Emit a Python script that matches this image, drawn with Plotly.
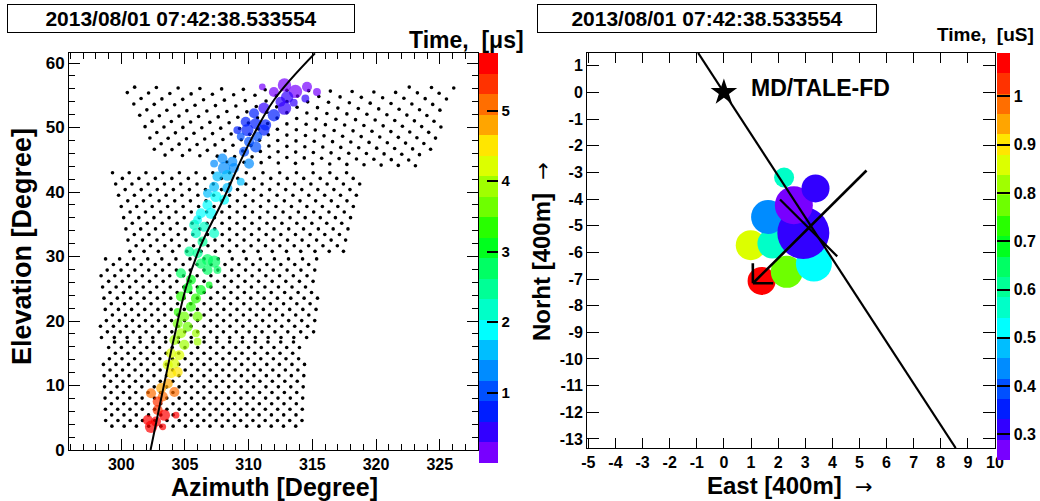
import math
import plotly.graph_objects as go

# ---------------- data ----------------
TITLE = "2013/08/01 07:42:38.533554"

# left panel: fitted track (azimuth vs elevation)
CURVE_EL = [0.0, 6.7, 17.0, 25.3, 31.5, 38.8, 47.0, 54.3, 61.5]
CURVE_AZ = [302.3, 303.0, 304.1, 305.1, 306.2, 308.0, 309.9, 312.0, 315.2]

# left panel: triggered pixels
HIT_AZ = [311.07, 312.81, 314.58, 315.36, 311.98, 313.67, 313.02, 314.45, 312.50, 313.54,
          311.20, 312.81, 310.42, 311.98, 309.77, 310.55, 311.33, 309.11, 309.90, 311.20,
          309.38, 310.68, 310.03, 310.55, 309.64, 307.29, 307.94, 308.72, 310.03, 308.07,
          308.85, 307.55, 308.33, 309.38, 307.29, 308.33, 306.77, 307.42, 308.07, 306.77,
          306.25, 307.03, 305.99, 305.73, 306.51, 307.29, 305.86, 306.38, 305.34, 305.99,
          306.77, 307.29, 306.25, 307.55, 306.77, 306.90, 304.69, 305.47, 305.21, 306.25,
          304.69, 305.86, 305.47, 304.43, 304.95, 305.99, 304.43, 305.21, 304.69, 305.86,
          305.99, 304.17, 304.95, 303.91, 304.56, 304.17, 303.65, 304.43, 303.91, 303.65,
          302.34, 303.13, 304.17, 303.26, 302.86, 302.86, 303.39, 304.30, 302.08, 302.73,
          302.34, 303.26]
HIT_EL = [56.3, 56.6, 56.3, 55.5, 55.5, 55.6, 54.7, 54.5, 54.0, 53.85,
          53.0, 53.0, 52.2, 51.9, 50.9, 50.6, 50.4, 49.6, 49.6, 49.6,
          48.6, 48.6, 47.8, 47.0, 46.25, 44.4, 45.2, 44.7, 44.4, 43.7,
          43.7, 42.4, 42.6, 41.6, 40.8, 40.6, 39.8, 39.3, 38.8, 38.0,
          36.7, 36.7, 35.7, 34.9, 34.6, 33.6, 33.6, 32.3, 30.75, 30.5,
          29.5, 29.2, 28.9, 27.9, 27.9, 25.6, 27.4, 26.4, 25.1, 24.8,
          23.8, 23.5, 22.2, 21.4, 20.7, 20.7, 19.6, 19.1, 18.1, 18.1,
          16.8, 17.05, 16.3, 15.0, 14.7, 13.4, 13.2, 12.1, 11.9, 10.3,
          8.8, 9.6, 9.0, 8.3, 7.5, 6.2, 5.4, 5.4, 4.65, 4.4,
          3.6, 3.6]
HIT_T = [0.12, 0.15, 0.12, 0.10, 0.25, 0.20, 0.35, 0.30, 0.40, 0.40,
         0.55, 0.50, 0.70, 0.65, 0.75, 0.80, 0.80, 0.85, 0.85, 0.85,
         0.95, 0.95, 1.00, 1.05, 1.10, 1.30, 1.25, 1.30, 1.30, 1.35,
         1.35, 1.50, 1.50, 1.55, 1.60, 1.60, 1.70, 1.75, 1.75, 1.80,
         1.90, 1.90, 2.00, 2.05, 2.10, 2.20, 2.20, 2.35, 2.50, 2.50,
         2.65, 2.65, 2.70, 2.85, 2.85, 3.05, 2.90, 2.95, 3.10, 3.10,
         3.25, 3.25, 3.40, 3.45, 3.55, 3.55, 3.65, 3.70, 3.85, 3.85,
         3.95, 3.95, 4.05, 4.20, 4.20, 4.35, 4.35, 4.50, 4.50, 4.80,
         5.00, 4.90, 5.00, 5.15, 5.30, 5.45, 5.55, 5.55, 5.65, 5.65,
         5.75, 5.70]
HIT_SIGNAL = [6, 12, 9, 7, 9, 12, 11, 7, 9, 7,
              10, 12, 9, 11, 9, 10, 10, 7, 11, 10,
              7, 9, 9, 10, 9, 7, 9, 9, 9, 11,
              9, 9, 10, 7, 9, 9, 8, 10, 9, 9,
              9, 10, 8, 9, 9, 9, 9, 9, 9, 9,
              10, 11, 9, 7, 9, 6, 9, 9, 9, 9,
              9, 9, 9, 7, 9, 9, 9, 9, 9, 7,
              7, 9, 9, 9, 9, 9, 9, 9, 9, 9,
              9, 9, 9, 9, 9, 9, 10, 6, 9, 9,
              11, 6]

# left panel: detector pixel layout (camera rings: outline, first row elevation, tilt)
RING_OUTLINES = [
    [(298.6, 3.3), (314.4, 3.3), (314.4, 17.0), (298.6, 17.0)],
    [(298.3, 17.2), (315.5, 17.2), (315.5, 29.9), (298.3, 29.9)],
    [(300.5, 30.5), (317.9, 30.5), (319.0, 43.1), (298.7, 43.1)],
    [(299.4, 56.8), (326.6, 56.2), (323.5, 43.2), (319.0, 43.4), (302.5, 45.3)],
]
RING_FIRST_ROW = [3.7, 17.45, 30.8, 43.6]
RING_CENTER_AZ = [306.0, 306.5, 308.5, 313.0]
RING_TILT = [0.0, 0.0, 0.0, -0.04]
PIXEL_ROW_STEP = 0.87
PIXEL_PITCH = 0.96

# right panel: ground view
CIRC_E = [0.99, 1.79, 1.39, 2.32, 3.32, 1.63, 2.93, 2.58, 3.38, 2.22]
CIRC_N = [-5.73, -5.67, -7.07, -6.73, -6.42, -4.67, -5.27, -4.23, -3.60, -3.19]
CIRC_T = [0.86, 0.56, 1.07, 0.77, 0.52, 0.44, 0.30, 0.27, 0.31, 0.56]
CIRC_SIGNAL = [30, 30, 28, 32, 36, 34, 52, 38, 28, 20]

SDP_E = [-0.95, 8.55]
SDP_N = [1.48, -13.34]
SEG_E = [2.07, 4.18]
SEG_N = [-4.02, -6.15]
ARROW_TAIL = (5.26, -2.93)
ARROW_HEAD = (1.07, -7.16)
SITE_E, SITE_N, SITE_NAME = 0.0, 0.0, "MD/TALE-FD"

LEFT_TICKS = [1, 2, 3, 4, 5]
RIGHT_TICKS = [0.3, 0.4, 0.5, 0.6, 0.7, 0.8, 0.9, 1.0]
RIGHT_TICKTEXT = ["0.3", "0.4", "0.5", "0.6", "0.7", "0.8", "0.9", "1"]

# ---------------- style ----------------
FONT = "Liberation Sans, Arial, sans-serif"
BANDS = ["rgb(120,0,255)", "rgb(50,0,255)", "rgb(0,30,255)", "rgb(0,80,255)",
         "rgb(0,140,255)", "rgb(0,190,255)", "rgb(0,255,255)", "rgb(0,255,200)",
         "rgb(0,255,150)", "rgb(0,255,100)", "rgb(0,255,30)", "rgb(40,255,0)",
         "rgb(110,255,0)", "rgb(160,255,0)", "rgb(220,255,0)", "rgb(255,230,0)",
         "rgb(255,165,0)", "rgb(255,110,0)", "rgb(255,50,0)", "rgb(255,0,0)"]
HIT_SCALE = 1.12


def discrete(colors):
    cs = []
    n = len(colors)
    for i, c in enumerate(colors):
        cs.append([i / n, c])
        cs.append([(i + 1) / n, c])
    return cs


CS = discrete(BANDS)
W, H = 1040, 501


def inside(x, y, poly):
    res = False
    n = len(poly)
    j = n - 1
    for i in range(n):
        xi, yi = poly[i]
        xj, yj = poly[j]
        if (yi > y) != (yj > y):
            xc = (xj - xi) * (y - yi) / (yj - yi) + xi
            if x < xc:
                res = not res
        j = i
    return res


pix_az, pix_el = [], []
for poly, e0, c0, tilt in zip(RING_OUTLINES, RING_FIRST_ROW, RING_CENTER_AZ, RING_TILT):
    for i in range(0, 40):
        eb = e0 + i * PIXEL_ROW_STEP
        if eb > 62:
            break
        sp = PIXEL_PITCH / math.cos(math.radians(eb))
        for k in range(-40, 41):
            az = c0 + (k + 0.5 * (i % 2)) * sp
            el = eb + tilt * (az - c0)
            if inside(az, el, poly):
                pix_az.append(az)
                pix_el.append(el)

fig = go.Figure()

fig.add_trace(go.Scatter(x=pix_az, y=pix_el, mode="markers", xaxis="x", yaxis="y",
                         marker=dict(size=3.6, color="black"), hoverinfo="skip"))
fig.add_trace(go.Scatter(
    x=HIT_AZ, y=HIT_EL, mode="markers", xaxis="x", yaxis="y",
    marker=dict(size=[s * HIT_SCALE for s in HIT_SIGNAL], color=HIT_T, cmin=0, cmax=5.82,
                colorscale=CS, line=dict(width=0),
                colorbar=dict(x=479 / W, xanchor="left", y=1 - 53 / H, yanchor="top",
                              len=410, lenmode="pixels", thickness=19, thicknessmode="pixels",
                              outlinewidth=0, ticks="inside", ticklen=11, tickcolor="black",
                              tickwidth=1.5, tickvals=LEFT_TICKS, xpad=0, ypad=0,
                              tickfont=dict(family=FONT, size=15, color="black", weight="bold")))))
fig.add_trace(go.Scatter(x=CURVE_AZ, y=CURVE_EL, mode="lines", xaxis="x", yaxis="y",
                         line=dict(color="black", width=2, shape="spline"), hoverinfo="skip"))

# right panel
fig.add_trace(go.Scatter(
    x=CIRC_E, y=CIRC_N, mode="markers", xaxis="x2", yaxis="y2",
    marker=dict(size=CIRC_SIGNAL, color=CIRC_T, cmin=0.247, cmax=1.09, colorscale=CS,
                opacity=1, line=dict(width=0),
                colorbar=dict(x=997 / W, xanchor="left", y=1 - 53 / H, yanchor="top",
                              len=407, lenmode="pixels", thickness=13, thicknessmode="pixels",
                              outlinewidth=0, ticks="inside", ticklen=13, tickcolor="black",
                              tickwidth=1.5, tickvals=RIGHT_TICKS, ticktext=RIGHT_TICKTEXT,
                              xpad=0, ypad=0,
                              tickfont=dict(family=FONT, size=16, color="black", weight="bold")))))
fig.add_trace(go.Scatter(x=SDP_E, y=SDP_N, mode="lines", xaxis="x2", yaxis="y2",
                         line=dict(color="black", width=2.2), hoverinfo="skip"))
fig.add_trace(go.Scatter(x=SEG_E, y=SEG_N, mode="lines", xaxis="x2", yaxis="y2",
                         line=dict(color="black", width=2.2), hoverinfo="skip"))

# arrow with open V head
tx, ty = ARROW_TAIL
hx, hy = ARROW_HEAD
dx, dy = tx - hx, ty - hy
L = math.hypot(dx, dy)
ux, uy = dx / L, dy / L
wing = 0.75
ax_list = [tx, hx, None]
ay_list = [ty, hy, None]
for ang in (math.radians(45), math.radians(-45)):
    wx = ux * math.cos(ang) - uy * math.sin(ang)
    wy = ux * math.sin(ang) + uy * math.cos(ang)
    ax_list += [hx, hx + wing * wx, None]
    ay_list += [hy, hy + wing * wy, None]
fig.add_trace(go.Scatter(x=ax_list, y=ay_list, mode="lines", xaxis="x2", yaxis="y2",
                         line=dict(color="black", width=2.6), hoverinfo="skip"))

fig.add_trace(go.Scatter(x=[SITE_E], y=[SITE_N], mode="markers", xaxis="x2", yaxis="y2",
                         marker=dict(symbol="star", size=20, color="black")))


def axis(size=17, **kw):
    base = dict(showline=True, linecolor="black", linewidth=1, mirror="ticks",
                ticks="inside", tickcolor="black", tickwidth=1, showgrid=False,
                zeroline=False, automargin=False,
                tickfont=dict(family=FONT, size=size, color="black", weight="bold"))
    base.update(kw)
    return base


LD = [69 / W, 478 / W]
RD = [587 / W, 995 / W]
YD = [1 - 450 / H, 1 - 53 / H]
YD2 = [1 - 448 / H, 1 - 53 / H]

rx_vals = list(range(-5, 11))
ry_vals = list(range(-13, 2))

fig.update_layout(
    template="none",
    width=W, height=H, autosize=False,
    margin=dict(l=0, r=0, t=0, b=0, pad=0, autoexpand=False),
    paper_bgcolor="white", plot_bgcolor="white",
    showlegend=False,
    xaxis=axis(size=16, domain=LD, range=[295.9, 328.0], anchor="y", tick0=300, dtick=5,
               ticklen=11,
               minor=dict(tick0=300, dtick=1, ticklen=6, ticks="inside", tickcolor="black",
                          showgrid=False)),
    yaxis=axis(domain=YD, range=[0, 61.55], anchor="x", tick0=0, dtick=10, ticklen=11,
               minor=dict(tick0=0, dtick=2, ticklen=6, ticks="inside", tickcolor="black",
                          showgrid=False)),
    xaxis2=axis(size=16, domain=RD, range=[-5.05, 10.0], anchor="y2", tickvals=rx_vals,
                ticktext=[str(v) for v in rx_vals], ticklen=10),
    yaxis2=axis(size=16, domain=YD2, range=[-13.34, 1.48], anchor="x2", tickvals=ry_vals,
                ticktext=[str(v) for v in ry_vals], ticklen=12),
)

ARROW = '<span style="font-family:DejaVu Sans;font-weight:normal;font-size:21px">→</span>'
ann = []
for cx, wbox in ((181, 346), (707, 338)):
    ann.append(dict(text="<b>" + TITLE + "</b>", xref="paper", yref="paper",
                    x=cx / W, y=1 - 18.5 / H, xanchor="center", yanchor="middle",
                    showarrow=False, width=wbox, height=27, bordercolor="black",
                    borderwidth=1, borderpad=0, bgcolor="white",
                    font=dict(family=FONT, size=21, color="black")))
ann.append(dict(text="<b>Time,  [μs]</b>", xref="paper", yref="paper", x=526 / W,
                y=1 - 40 / H, xanchor="right", yanchor="middle", showarrow=False,
                font=dict(family=FONT, size=23, color="black")))
ann.append(dict(text="<b>Time,  [uS]</b>", xref="paper", yref="paper", x=1036 / W,
                y=1 - 35 / H, xanchor="right", yanchor="middle", showarrow=False,
                font=dict(family=FONT, size=19, color="black")))
ann.append(dict(text="<b>Elevation [Degree]</b>", xref="paper", yref="paper", x=22 / W,
                y=1 - 247 / H, xanchor="center", yanchor="middle", textangle=-90,
                showarrow=False, font=dict(family=FONT, size=27, color="black")))
ann.append(dict(text="<b>Azimuth [Degree]</b>", xref="paper", yref="paper", x=274 / W,
                y=1 - 487 / H, xanchor="center", yanchor="middle", showarrow=False,
                font=dict(family=FONT, size=25, color="black")))
ann.append(dict(text="<b>East [400m]</b>  " + ARROW, xref="paper", yref="paper", x=790 / W,
                y=1 - 485 / H, xanchor="center", yanchor="middle", showarrow=False,
                font=dict(family=FONT, size=24, color="black")))
ann.append(dict(text="<b>Norht [400m]</b>  " + ARROW, xref="paper", yref="paper", x=542 / W,
                y=1 - 252 / H, xanchor="center", yanchor="middle", textangle=-90,
                showarrow=False, font=dict(family=FONT, size=24, color="black")))
ann.append(dict(text="<b>" + SITE_NAME + "</b>", xref="x2", yref="y2", x=0.93, y=0.16,
                xanchor="left", yanchor="middle", showarrow=False,
                font=dict(family=FONT, size=23, color="black")))
fig.update_layout(annotations=ann)

fig.write_html("out.html", config={"displayModeBar": False},
               post_script="document.body.style.margin='0';document.body.style.padding='0';")
